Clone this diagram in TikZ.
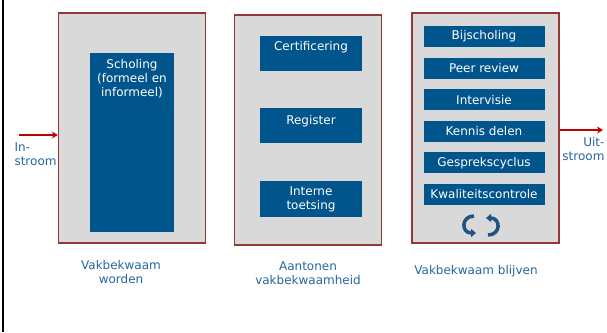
\documentclass[tikz,border=0pt]{standalone}
\usepackage{fontspec}
\setmainfont{DejaVu Sans}
\usetikzlibrary{positioning,arrows.meta}

\definecolor{fasegrijs}{HTML}{D9D9D9}
\definecolor{faserand}{HTML}{953735}
\definecolor{blokblauw}{HTML}{00558C}
\definecolor{tekstblauw}{HTML}{2466A0}
\definecolor{stroomrood}{HTML}{C00000}
\definecolor{cyclusblauw}{HTML}{1F5380}

\tikzset{
  fase/.style={draw=faserand, line width=1.3pt, fill=fasegrijs, minimum width=147pt, minimum height=230pt, inner sep=0pt},
  blok/.style={fill=blokblauw, text=white, align=center, inner sep=0pt, font=\fontsize{12}{14}\selectfont},
  kop/.style={text=white, align=center, font=\fontsize{12}{14}\selectfont},
  onderschrift/.style={text=tekstblauw, align=center, font=\fontsize{12}{14}\selectfont},
  stroom/.style={draw=stroomrood, line width=1.5pt, -{Stealth[length=6pt,width=7pt]}},
  cyclus/.style={draw=cyclusblauw, line width=3.5pt, -{Triangle[length=5pt,width=8pt]}}
}

\begin{document}
\begin{tikzpicture}[x=1pt,y=-1pt,node distance=31.6pt,on grid]
   \useasboundingbox (0,0) rectangle (607,332);
   \draw[line width=2pt] (2.5,0) -- (2.5,332);

   % drie fasen
   \node[fase] (worden)  at (132,128) {};
   \node[fase] (aantonen) at (308,130) {};
   \node[fase] (blijven) at (485.5,128) {};

   % fase 1
   \node[blok, minimum width=84pt, minimum height=179pt] (scholing) at (132,142.5) {};
   \node[kop, anchor=north] at (scholing.north) [yshift=-3pt] {Scholing\\(formeel en\\informeel)};

   % fase 2
   \node[blok, minimum width=102pt, minimum height=35pt] (certificering) at (311,53.5) {};
   \node[kop, anchor=north] at (certificering.north) [yshift=-2pt] {Certificering};
   \node[blok, minimum width=102pt, minimum height=35pt] (register) at (311,125.5) {};
   \node[kop, anchor=north] at (register.north) [yshift=-4pt] {Register};
   \node[blok, minimum width=102pt, minimum height=36pt] (toetsing) at (311,199) {Interne\\toetsing};

   % fase 3
   \node[blok, minimum width=121pt, minimum height=21pt] (bijscholing) at (484,36.5) {Bijscholing};
   \node[blok, minimum width=121pt, minimum height=21pt] (peer) [below=of bijscholing] {Peer review};
   \node[blok, minimum width=121pt, minimum height=21pt] (intervisie) [below=of peer] {Intervisie};
   \node[blok, minimum width=121pt, minimum height=21pt] (kennis) [below=of intervisie] {Kennis delen};
   \node[blok, minimum width=121pt, minimum height=21pt] (gesprek) [below=of kennis] {Gesprekscyclus};
   \node[blok, minimum width=121pt, minimum height=21pt] (kwaliteit) [below=of gesprek] {Kwaliteitscontrole};

   % cyclus
   \coordinate (c1a) at (474,216);
   \coordinate (c1b) at (476,233);
   \coordinate (c2a) at (488,235);
   \coordinate (c2b) at (486,218);
   \draw[cyclus] (c1a) .. controls (461,216) and (461,233) .. (c1b);
   \draw[cyclus] (c2a) .. controls (501,235) and (501,218) .. (c2b);

   % onderschriften
   \node[onderschrift] (tworden) at (121,272.5) {Vakbekwaam\\worden};
   \node[onderschrift] (taantonen) at (308,273.5) {Aantonen\\vakbekwaamheid};
   \node[onderschrift] (tblijven) at (476,271) {Vakbekwaam blijven};

   % in- en uitstroom
   \coordinate (instart) at (19,135);
   \coordinate (uiteinde) at (603,130);
   \draw[stroom] (instart) -- (instart -| worden.west);
   \draw[stroom] (uiteinde -| blijven.east) -- (uiteinde);
   \node[onderschrift, align=left, anchor=north west] (tin) at (11,139) {In-\\stroom};
   \node[onderschrift, align=right, anchor=north east] (tuit) at (608,134) {Uit-\\stroom};
\end{tikzpicture}
\end{document}
